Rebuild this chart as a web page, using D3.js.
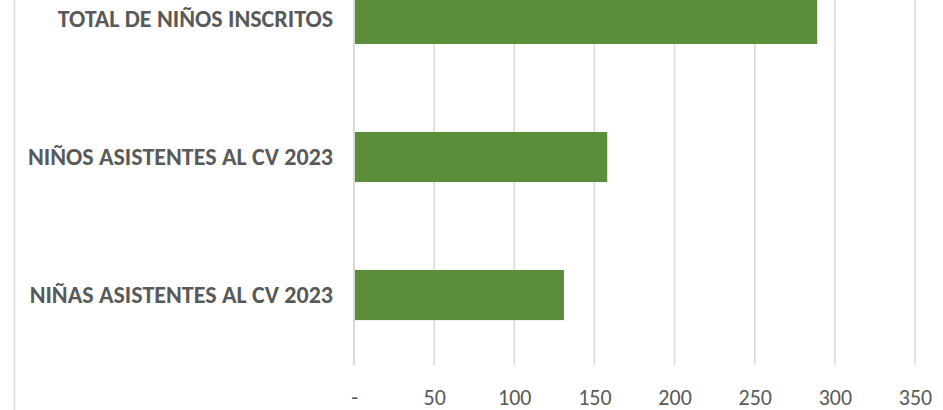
<!DOCTYPE html>
<html>
<head>
<meta charset="utf-8">
<script src="https://cdn.jsdelivr.net/npm/d3@7"></script>
<style>
  body { margin: 0; background: #fff; }
  text { font-family: Carlito, "Liberation Sans Narrow", "Liberation Sans", Arial, sans-serif; fill: #595959; }
</style>
</head>
<body>
<div id="chart"></div>
<script>
// data
var categories = ["TOTAL DE NIÑOS INSCRITOS", "NIÑOS ASISTENTES AL CV 2023", "NIÑAS ASISTENTES AL CV 2023"];
var values = [289, 158, 131];
var tickValues = [0, 50, 100, 150, 200, 250, 300, 350];
var tickLabels = ["-", "50", "100", "150", "200", "250", "300", "350"];

var width = 943, height = 410;

var svg = d3.select("#chart")
    .append("svg")
    .attr("width", width)
    .attr("height", height);

var x = d3.scaleLinear()
    .domain([0, 350])
    .range([354, 915]);

var y = d3.scaleBand()
    .domain(categories)
    .range([-50, 364])
    .paddingInner(0.637)
    .paddingOuter(0.318);

// left border of the chart area
svg.append("line")
    .attr("x1", 14.5).attr("x2", 14.5)
    .attr("y1", 0).attr("y2", height)
    .style("stroke", "#d9d9d9")
    .style("stroke-width", 1.5);

// gridlines
svg.append("g")
    .selectAll("line")
    .data(tickValues)
    .enter()
    .append("line")
    .attr("x1", function(d){ return x(d); })
    .attr("x2", function(d){ return x(d); })
    .attr("y1", 0)
    .attr("y2", 365)
    .style("stroke", "#d9d9d9")
    .style("stroke-width", function(d){ return d === 0 ? 2 : 1.5; });

// bars
svg.append("g")
    .selectAll("rect")
    .data(values)
    .enter()
    .append("rect")
    .attr("x", x(0) + 1)
    .attr("y", function(d, i){ return y(categories[i]); })
    .attr("width", function(d){ return x(d) - x(0) - 1; })
    .attr("height", y.bandwidth())
    .style("fill", "#5a8e3a");

// category labels
svg.append("g")
    .selectAll("text")
    .data(categories)
    .enter()
    .append("text")
    .attr("x", 333)
    .attr("y", function(d){ return y(d) + y.bandwidth()/2; })
    .attr("dy", "0.35em")
    .attr("text-anchor", "end")
    .style("font-size", "24px")
    .style("font-weight", "bold")
    .text(function(d){ return d; });

// x axis labels
var xAxis = d3.axisBottom(x)
    .tickValues(tickValues)
    .tickFormat(function(d, i){ return tickLabels[i]; })
    .tickSize(0)
    .tickPadding(0);

var gx = svg.append("g")
    .attr("transform", "translate(0,389)")
    .call(xAxis);
gx.select(".domain").remove();
gx.selectAll("text")
    .style("font-size", "22px")
    .style("font-family", null);
</script>
</body>
</html>
